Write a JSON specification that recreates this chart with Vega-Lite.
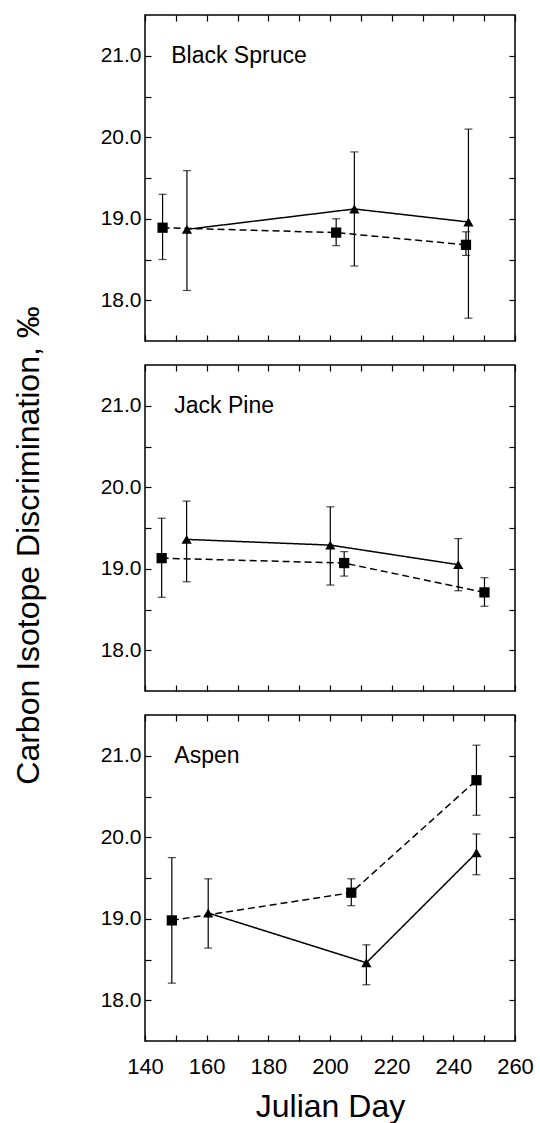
{
  "$schema": "https://vega.github.io/schema/vega-lite/v6.json",
  "padding": {"left": 11, "top": 13, "right": 5, "bottom": 5},
  "background": "white",
  "bounds": "flush",
  "config": {
    "view": {"stroke": "black", "strokeWidth": 1.5},
    "font": "Liberation Sans",
    "axis": {
      "grid": false,
      "domain": false,
      "tickColor": "black",
      "tickWidth": 1.2,
      "tickSize": -6,
      "labelColor": "black",
      "titleColor": "black",
      "labelFont": "Liberation Sans",
      "titleFont": "Liberation Sans",
      "labelFontSize": 21,
      "titleFontSize": 32,
      "titleFontWeight": "normal",
      "labelFlush": false,
      "labelOverlap": false,
      "labelBound": false
    }
  },
  "datasets": {
    "pts": [
      {"panel": "Black Spruce", "series": "square", "day": 145.7, "mean": 18.89, "lo": 18.50, "hi": 19.30},
      {"panel": "Black Spruce", "series": "square", "day": 202.0, "mean": 18.83, "lo": 18.67, "hi": 19.00},
      {"panel": "Black Spruce", "series": "square", "day": 244.1, "mean": 18.68, "lo": 18.55, "hi": 18.84},
      {"panel": "Black Spruce", "series": "triangle", "day": 153.6, "mean": 18.87, "lo": 18.12, "hi": 19.59},
      {"panel": "Black Spruce", "series": "triangle", "day": 207.9, "mean": 19.12, "lo": 18.42, "hi": 19.82},
      {"panel": "Black Spruce", "series": "triangle", "day": 244.9, "mean": 18.96, "lo": 17.78, "hi": 20.10},
      {"panel": "Jack Pine", "series": "square", "day": 145.4, "mean": 19.13, "lo": 18.65, "hi": 19.62},
      {"panel": "Jack Pine", "series": "square", "day": 204.6, "mean": 19.07, "lo": 18.91, "hi": 19.21},
      {"panel": "Jack Pine", "series": "square", "day": 250.1, "mean": 18.71, "lo": 18.54, "hi": 18.89},
      {"panel": "Jack Pine", "series": "triangle", "day": 153.5, "mean": 19.36, "lo": 18.84, "hi": 19.83},
      {"panel": "Jack Pine", "series": "triangle", "day": 200.1, "mean": 19.29, "lo": 18.80, "hi": 19.76},
      {"panel": "Jack Pine", "series": "triangle", "day": 241.6, "mean": 19.05, "lo": 18.73, "hi": 19.37},
      {"panel": "Aspen", "series": "square", "day": 148.7, "mean": 18.98, "lo": 18.21, "hi": 19.75},
      {"panel": "Aspen", "series": "square", "day": 206.9, "mean": 19.32, "lo": 19.16, "hi": 19.49},
      {"panel": "Aspen", "series": "square", "day": 247.5, "mean": 20.70, "lo": 20.27, "hi": 21.13},
      {"panel": "Aspen", "series": "triangle", "day": 160.5, "mean": 19.07, "lo": 18.64, "hi": 19.49},
      {"panel": "Aspen", "series": "triangle", "day": 211.8, "mean": 18.46, "lo": 18.19, "hi": 18.68},
      {"panel": "Aspen", "series": "triangle", "day": 247.5, "mean": 19.81, "lo": 19.54, "hi": 20.04}
    ],
    "labels": [
      {"panel": "Black Spruce", "day": 148.5, "val": 21.0},
      {"panel": "Jack Pine", "day": 149.5, "val": 21.0},
      {"panel": "Aspen", "day": 149.5, "val": 21.0}
    ]
  },
  "spacing": 24,
  "vconcat": [
    {
      "width": 370, "height": 326,
      "layer": [
        {"data": {"name": "pts"}, "transform": [{"filter": "datum.panel === 'Black Spruce'"}],
         "mark": {"type": "line", "color": "black", "strokeWidth": 1.5},
         "encoding": {
           "x": {"field": "day", "type": "quantitative", "scale": {"domain": [140, 260], "nice": false, "zero": false},
                 "axis": {"orient": "bottom", "values": [140,150,160,170,180,190,200,210,220,230,240,250,260], "labels": false, "title": null}},
           "y": {"field": "mean", "type": "quantitative", "scale": {"domain": [17.5, 21.5], "nice": false, "zero": false},
                 "axis": {"orient": "left", "values": [18,18.5,19,19.5,20,20.5,21], "labelExpr": "datum.value % 1 === 0 ? format(datum.value, '.1f') : ''", "labelPadding": 10, "title": null}},
           "strokeDash": {"field": "series", "type": "nominal", "scale": {"domain": ["square", "triangle"], "range": [[7, 4], [1, 0]]}, "legend": null}
         }},
        {"data": {"name": "pts"}, "transform": [{"filter": "datum.panel === 'Black Spruce'"}],
         "mark": {"type": "rule", "color": "black", "strokeWidth": 1.2},
         "encoding": {
           "x": {"field": "day", "type": "quantitative", "axis": {"orient": "top", "values": [140,150,160,170,180,190,200,210,220,230,240,250,260], "labels": false, "title": null}},
           "y": {"field": "lo", "type": "quantitative", "axis": {"orient": "right", "values": [18,18.5,19,19.5,20,20.5,21], "labels": false, "title": null}},
           "y2": {"field": "hi"}
         }},
        {"data": {"name": "pts"}, "transform": [{"filter": "datum.panel === 'Black Spruce'"}],
         "mark": {"type": "tick", "orient": "horizontal", "size": 8, "thickness": 1.2, "color": "black"},
         "encoding": {"x": {"field": "day", "type": "quantitative", "axis": null}, "y": {"field": "lo", "type": "quantitative", "axis": null}}},
        {"data": {"name": "pts"}, "transform": [{"filter": "datum.panel === 'Black Spruce'"}],
         "mark": {"type": "tick", "orient": "horizontal", "size": 8, "thickness": 1.2, "color": "black"},
         "encoding": {"x": {"field": "day", "type": "quantitative", "axis": null}, "y": {"field": "hi", "type": "quantitative", "axis": null}}},
        {"data": {"name": "pts"}, "transform": [{"filter": "datum.panel === 'Black Spruce'"}],
         "mark": {"type": "point", "filled": true, "opacity": 1, "color": "black", "size": 105},
         "encoding": {"x": {"field": "day", "type": "quantitative", "axis": null}, "y": {"field": "mean", "type": "quantitative", "axis": null},
           "shape": {"field": "series", "type": "nominal", "scale": {"domain": ["square", "triangle"], "range": ["square", "triangle-up"]}, "legend": null}}},
        {"data": {"name": "labels"}, "transform": [{"filter": "datum.panel === 'Black Spruce'"}],
         "mark": {"type": "text", "align": "left", "baseline": "middle", "fontSize": 23, "font": "Liberation Sans", "color": "black"},
         "encoding": {"x": {"field": "day", "type": "quantitative", "axis": null}, "y": {"field": "val", "type": "quantitative", "axis": null}, "text": {"field": "panel"}}}
      ],
      "resolve": {"axis": {"x": "independent", "y": "independent"}}
    },
    {
      "width": 370, "height": 326,
      "layer": [
        {"data": {"name": "pts"}, "transform": [{"filter": "datum.panel === 'Jack Pine'"}],
         "mark": {"type": "line", "color": "black", "strokeWidth": 1.5},
         "encoding": {
           "x": {"field": "day", "type": "quantitative", "scale": {"domain": [140, 260], "nice": false, "zero": false},
                 "axis": {"orient": "bottom", "values": [140,150,160,170,180,190,200,210,220,230,240,250,260], "labels": false, "title": null}},
           "y": {"field": "mean", "type": "quantitative", "scale": {"domain": [17.5, 21.5], "nice": false, "zero": false},
                 "axis": {"orient": "left", "values": [18,18.5,19,19.5,20,20.5,21], "labelExpr": "datum.value % 1 === 0 ? format(datum.value, '.1f') : ''", "labelPadding": 10, "title": "Carbon Isotope Discrimination, ‰", "titlePadding": 55, "titleY": 180}},
           "strokeDash": {"field": "series", "type": "nominal", "scale": {"domain": ["square", "triangle"], "range": [[7, 4], [1, 0]]}, "legend": null}
         }},
        {"data": {"name": "pts"}, "transform": [{"filter": "datum.panel === 'Jack Pine'"}],
         "mark": {"type": "rule", "color": "black", "strokeWidth": 1.2},
         "encoding": {
           "x": {"field": "day", "type": "quantitative", "axis": {"orient": "top", "values": [140,150,160,170,180,190,200,210,220,230,240,250,260], "labels": false, "title": null}},
           "y": {"field": "lo", "type": "quantitative", "axis": {"orient": "right", "values": [18,18.5,19,19.5,20,20.5,21], "labels": false, "title": null}},
           "y2": {"field": "hi"}
         }},
        {"data": {"name": "pts"}, "transform": [{"filter": "datum.panel === 'Jack Pine'"}],
         "mark": {"type": "tick", "orient": "horizontal", "size": 8, "thickness": 1.2, "color": "black"},
         "encoding": {"x": {"field": "day", "type": "quantitative", "axis": null}, "y": {"field": "lo", "type": "quantitative", "axis": null}}},
        {"data": {"name": "pts"}, "transform": [{"filter": "datum.panel === 'Jack Pine'"}],
         "mark": {"type": "tick", "orient": "horizontal", "size": 8, "thickness": 1.2, "color": "black"},
         "encoding": {"x": {"field": "day", "type": "quantitative", "axis": null}, "y": {"field": "hi", "type": "quantitative", "axis": null}}},
        {"data": {"name": "pts"}, "transform": [{"filter": "datum.panel === 'Jack Pine'"}],
         "mark": {"type": "point", "filled": true, "opacity": 1, "color": "black", "size": 105},
         "encoding": {"x": {"field": "day", "type": "quantitative", "axis": null}, "y": {"field": "mean", "type": "quantitative", "axis": null},
           "shape": {"field": "series", "type": "nominal", "scale": {"domain": ["square", "triangle"], "range": ["square", "triangle-up"]}, "legend": null}}},
        {"data": {"name": "labels"}, "transform": [{"filter": "datum.panel === 'Jack Pine'"}],
         "mark": {"type": "text", "align": "left", "baseline": "middle", "fontSize": 23, "font": "Liberation Sans", "color": "black"},
         "encoding": {"x": {"field": "day", "type": "quantitative", "axis": null}, "y": {"field": "val", "type": "quantitative", "axis": null}, "text": {"field": "panel"}}}
      ],
      "resolve": {"axis": {"x": "independent", "y": "independent"}}
    },
    {
      "width": 370, "height": 326,
      "layer": [
        {"data": {"name": "pts"}, "transform": [{"filter": "datum.panel === 'Aspen'"}],
         "mark": {"type": "line", "color": "black", "strokeWidth": 1.5},
         "encoding": {
           "x": {"field": "day", "type": "quantitative", "scale": {"domain": [140, 260], "nice": false, "zero": false},
                 "axis": {"orient": "bottom", "values": [140,150,160,170,180,190,200,210,220,230,240,250,260], "labelExpr": "datum.value % 20 === 0 ? datum.label : ''", "labelFontSize": 22, "labelPadding": 21, "title": "Julian Day", "titlePadding": 14}},
           "y": {"field": "mean", "type": "quantitative", "scale": {"domain": [17.5, 21.5], "nice": false, "zero": false},
                 "axis": {"orient": "left", "values": [18,18.5,19,19.5,20,20.5,21], "labelExpr": "datum.value % 1 === 0 ? format(datum.value, '.1f') : ''", "labelPadding": 10, "title": null}},
           "strokeDash": {"field": "series", "type": "nominal", "scale": {"domain": ["square", "triangle"], "range": [[7, 4], [1, 0]]}, "legend": null}
         }},
        {"data": {"name": "pts"}, "transform": [{"filter": "datum.panel === 'Aspen'"}],
         "mark": {"type": "rule", "color": "black", "strokeWidth": 1.2},
         "encoding": {
           "x": {"field": "day", "type": "quantitative", "axis": {"orient": "top", "values": [140,150,160,170,180,190,200,210,220,230,240,250,260], "labels": false, "title": null}},
           "y": {"field": "lo", "type": "quantitative", "axis": {"orient": "right", "values": [18,18.5,19,19.5,20,20.5,21], "labels": false, "title": null}},
           "y2": {"field": "hi"}
         }},
        {"data": {"name": "pts"}, "transform": [{"filter": "datum.panel === 'Aspen'"}],
         "mark": {"type": "tick", "orient": "horizontal", "size": 8, "thickness": 1.2, "color": "black"},
         "encoding": {"x": {"field": "day", "type": "quantitative", "axis": null}, "y": {"field": "lo", "type": "quantitative", "axis": null}}},
        {"data": {"name": "pts"}, "transform": [{"filter": "datum.panel === 'Aspen'"}],
         "mark": {"type": "tick", "orient": "horizontal", "size": 8, "thickness": 1.2, "color": "black"},
         "encoding": {"x": {"field": "day", "type": "quantitative", "axis": null}, "y": {"field": "hi", "type": "quantitative", "axis": null}}},
        {"data": {"name": "pts"}, "transform": [{"filter": "datum.panel === 'Aspen'"}],
         "mark": {"type": "point", "filled": true, "opacity": 1, "color": "black", "size": 105},
         "encoding": {"x": {"field": "day", "type": "quantitative", "axis": null}, "y": {"field": "mean", "type": "quantitative", "axis": null},
           "shape": {"field": "series", "type": "nominal", "scale": {"domain": ["square", "triangle"], "range": ["square", "triangle-up"]}, "legend": null}}},
        {"data": {"name": "labels"}, "transform": [{"filter": "datum.panel === 'Aspen'"}],
         "mark": {"type": "text", "align": "left", "baseline": "middle", "fontSize": 23, "font": "Liberation Sans", "color": "black"},
         "encoding": {"x": {"field": "day", "type": "quantitative", "axis": null}, "y": {"field": "val", "type": "quantitative", "axis": null}, "text": {"field": "panel"}}}
      ],
      "resolve": {"axis": {"x": "independent", "y": "independent"}}
    }
  ]
}
